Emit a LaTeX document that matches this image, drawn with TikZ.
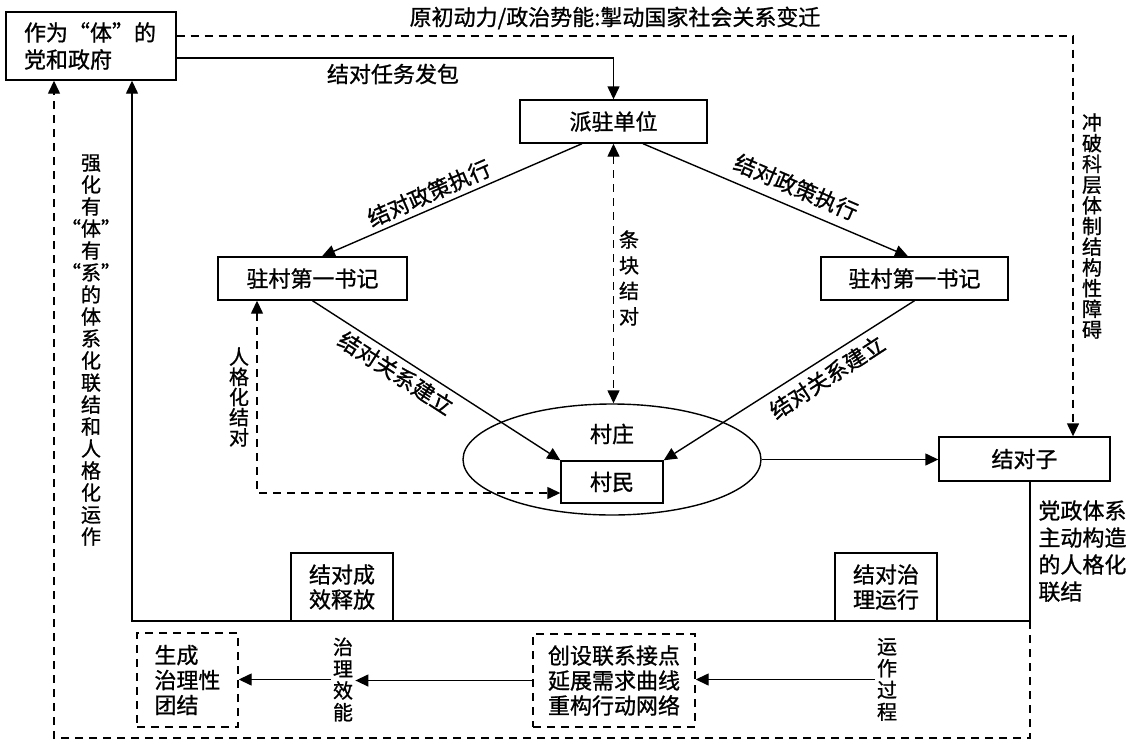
\documentclass[tikz,border=0pt]{standalone}
\usepackage{fontspec}
\setmainfont{Noto Sans CJK SC}[FakeBold=1]
\usepackage{tikz}
\usetikzlibrary{shapes,arrows.meta,positioning}

\begin{document}
\begin{tikzpicture}[x=0.5pt, y=-0.5pt, >={Triangle[length=6.5pt,width=6pt]},
        every node/.style={font=\fontsize{11pt}{13.5pt}\selectfont},
        box/.style={rectangle, draw, line width=0.7pt, inner sep=0pt, align=center},
        dbox/.style={box, dash pattern=on 4pt off 3pt},
        vlabel/.style={inner sep=1pt, align=center, font=\fontsize{10pt}{10.9pt}\selectfont},
        line/.style={draw, ->, line width=0.7pt},
        dline/.style={line, dash pattern=on 4pt off 3pt}]

        \useasboundingbox (0,0) rectangle (1134,744);

        \node [box, minimum width=85pt, minimum height=34pt, text width=67pt, align=left] (gov) at (91,46) {作为“体”的\\党和政府};
        \node [box, minimum width=93.5pt, minimum height=21.5pt] (unit) at (613.5,121.5) {派驻单位};
        \node [box, minimum width=94.5pt, minimum height=21.5pt] (sec1) at (312.5,278.5) {驻村第一书记};
        \node [box, minimum width=93.5pt, minimum height=21.5pt] (sec2) at (914.5,278.5) {驻村第一书记};
        \node [ellipse, draw, line width=0.7pt, inner sep=0pt, minimum width=149pt, minimum height=55.5pt] (village) at (612,459.5) {};
        \node (villname) at (612,434) {村庄};
        \node [box, minimum width=51pt, minimum height=21pt] (villager) at (612,482) {村民};
        \node [box, minimum width=85.5pt, minimum height=22pt] (pair) at (1024.5,459) {结对子};
        \node [box, minimum width=51pt, minimum height=34pt, font=\fontsize{11pt}{12.5pt}\selectfont] (release) at (342,587) {结对成\\效释放};
        \node [box, minimum width=51pt, minimum height=34pt, font=\fontsize{11pt}{12.5pt}\selectfont] (operate) at (886,587) {结对治\\理运行};
        \node [dbox, minimum width=50.5pt, minimum height=47pt, text width=33pt, align=left, font=\fontsize{11pt}{12.5pt}\selectfont] (unity) at (187.5,680) {生成\\治理性\\团结};
        \node [dbox, minimum width=81pt, minimum height=46.5pt, font=\fontsize{11pt}{12.5pt}\selectfont] (link) at (614,680.5) {创设联系接点\\延展需求曲线\\重构行动网络};
        \node [vlabel] (efficacy) at (343,679.5) {治\\理\\效\\能};
        \node [vlabel] (process) at (887,679.5) {运\\作\\过\\程};

        \node (drive) at (615,18) {原初动力/政治势能:掣动国家社会关系变迁};
        \node (assign) at (393,74) {结对任务发包};
        \node [rotate=23.7] (exec1) at (429,193) {结对政策执行};
        \node [rotate=-23.3] (exec2) at (796,187) {结对政策执行};
        \node [rotate=-33] (build1) at (396,373) {结对关系建立};
        \node [rotate=33] (build2) at (827,377) {结对关系建立};
        \node [vlabel, font=\fontsize{10pt}{12.8pt}\selectfont] (block) at (629,278) {条\\块\\结\\对};
        \node [vlabel, font=\fontsize{10pt}{10.1pt}\selectfont] (person) at (239,397) {人\\格\\化\\结\\对};
        \node [vlabel, font=\fontsize{10pt}{10.35pt}\selectfont] (breach) at (1092,226) {冲\\破\\科\\层\\体\\制\\结\\构\\性\\障\\碍};
        \node [vlabel, font=\fontsize{10pt}{11pt}\selectfont] (strength) at (91,350) {强\\化\\有\\“体”\\有\\“系”\\的\\体\\系\\化\\联\\结\\和\\人\\格\\化\\运\\作};
        \node [anchor=north west, align=left, inner sep=0pt] (active) at (1038,500) {党政体系\\主动构造\\的人格化\\联结};

        \coordinate (breakpt) at (1073,36);
        \coordinate (assignpt) at (613.5,58);
        \coordinate (personpt) at (257,493);
        \coordinate (loopR) at (1030,621);
        \coordinate (loopL) at (132,621);
        \coordinate (dloopR) at (1030,738);
        \coordinate (dloopL) at (54,738);

        \path [dline] (gov.east |- breakpt) -- (breakpt) -- (breakpt |- pair.north);
        \path [line] (gov.east |- assignpt) -- (assignpt) -- (unit.north);
        \path [line] ([xshift=-15.75pt]unit.south) -- ([xshift=4.75pt]sec1.north);
        \path [line] ([xshift=14.75pt]unit.south) -- ([xshift=-3.25pt]sec2.north);
        \path [line] (sec1.south) -- (villager.north west);
        \path [line] (sec2.south) -- (villager.north east);
        \path [dline, <->] (unit.south) -- (unit.south |- village.north);
        \path [dline, <->] (sec1.south -| personpt) -- (personpt) -- (villager.west |- personpt);
        \path [line] (village.east) -- (village.east -| pair.west);
        \path [line] (pair.south -| loopR) -- (loopR) -- (loopL) -- (loopL |- gov.south);
        \path [dline] (loopR) -- (dloopR) -- (dloopL) -- (dloopL |- gov.south);
        \path [line] (process.west) -- (process.west -| link.east);
        \path [line] (link.west) -- (link.west -| efficacy.east);
        \path [line] (efficacy.west) -- (efficacy.west -| unity.east);
    \end{tikzpicture}
\end{document}
